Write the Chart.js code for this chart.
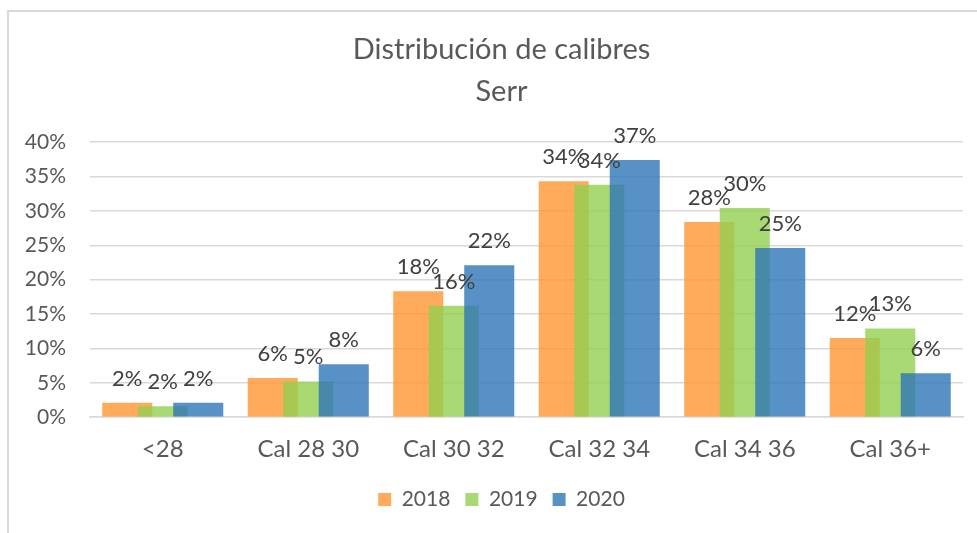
<!DOCTYPE html>
<html>
<head>
<meta charset="utf-8">
<script src="https://cdn.jsdelivr.net/npm/chart.js@4.4.1/dist/chart.umd.min.js"></script>
<style>
  html, body { margin: 0; padding: 0; background: #fff; overflow: hidden; }
  #wrap { position: relative; width: 977px; height: 533px; }
  #frame {
    position: absolute; left: 7px; top: 10px; width: 1000px; height: 600px;
    border-left: 2px solid #d9d9d9; border-top: 2px solid #d9d9d9;
    pointer-events: none;
  }
</style>
</head>
<body>
<div id="wrap">
  <canvas id="chart" width="977" height="533"></canvas>
  <div id="frame"></div>
</div>
<script>
// datos del grafico (porcentaje)
const categories = ['<28', 'Cal 28 30', 'Cal 30 32', 'Cal 32 34', 'Cal 34 36', 'Cal 36+'];
const years = ['2018', '2019', '2020'];
const v2018 = [2.1, 5.7, 18.3, 34.3, 28.4, 11.5];
const v2019 = [1.6, 5.2, 16.2, 33.8, 30.4, 12.9];
const v2020 = [2.1, 7.7, 22.1, 37.4, 24.6, 6.4];
const yTicks = [0, 5, 10, 15, 20, 25, 30, 35, 40];

const FONT = 'Lato, "Open Sans", sans-serif';
const GREY = '#595959';
const colors = ['rgba(255,150,50,0.8)', 'rgba(146,208,80,0.8)', 'rgba(46,117,182,0.8)'];

/* dibujar datasets en orden (2020 encima) */
const drawOrder = {
  id: 'drawOrder',
  beforeDatasetsDraw(chart) {
    chart.getSortedVisibleDatasetMetas().forEach(m => m.controller.draw());
    return false;
  }
};

/* etiquetas encima de cada barra */
const barLabels = {
  id: 'barLabels',
  afterDraw(chart) {
    const ctx = chart.ctx;
    ctx.save();
    ctx.font = `22px ${FONT}`;
    ctx.fillStyle = '#404040';
    ctx.textAlign = 'center';
    ctx.textBaseline = 'alphabetic';
    chart.data.datasets.forEach((ds, i) => {
      chart.getDatasetMeta(i).data.forEach((bar, j) => {
        ctx.fillText(Math.round(ds.data[j]) + '%', bar.x, bar.y - 17);
      });
    });
    ctx.restore();
  }
};

new Chart(document.getElementById('chart'), {
  type: 'bar',
  data: {
    labels: categories,
    datasets: [v2018, v2019, v2020].map((d, i) => ({
      label: years[i],
      data: d,
      backgroundColor: colors[i],
      borderWidth: 0,
      categoryPercentage: 0.732,
      barPercentage: 1.41
    }))
  },
  options: {
    responsive: false,
    animation: false,
    layout: { padding: { left: 40, right: 14, top: 0, bottom: 13 } },
    scales: {
      x: {
        grid: { display: false },
        border: { color: '#d9d9d9', width: 1.5 },
        ticks: { color: GREY, font: { family: FONT, size: 24 }, padding: 10 }
      },
      y: {
        min: 0, max: 40,
        afterFit: (s) => {
          s.width = 50;
          s._computeLabelArea = () => null; // no recortar etiquetas
        },
        afterBuildTicks: (s) => { s.ticks = yTicks.map(v => ({ value: v })); },
        grid: { color: '#d9d9d9', lineWidth: 1.5, drawTicks: false },
        border: { display: false },
        ticks: {
          color: GREY, font: { family: FONT, size: 21 }, padding: 24,
          callback: (v) => v + '%'
        }
      }
    },
    plugins: {
      title: {
        display: true,
        text: ['Distribución de calibres', 'Serr'],
        color: GREY,
        font: { family: FONT, size: 29, weight: 'normal', lineHeight: 1.45 },
        padding: { top: 29, bottom: 29 }
      },
      legend: {
        position: 'bottom',
        labels: {
          color: GREY, font: { family: FONT, size: 21 },
          boxWidth: 13, boxHeight: 13, padding: 15
        }
      },
      tooltip: { enabled: false }
    }
  },
  plugins: [drawOrder, barLabels]
});
</script>
</body>
</html>
